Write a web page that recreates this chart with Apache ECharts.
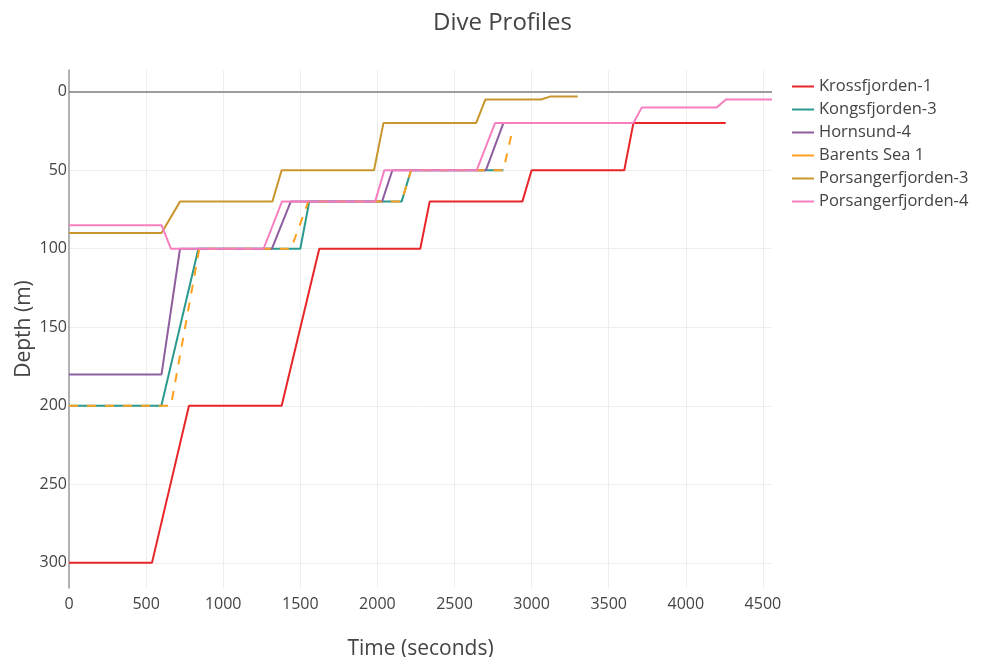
<!DOCTYPE html>
<html>
<head>
<meta charset="utf-8">
<title>Dive Profiles</title>
<script src="https://cdn.jsdelivr.net/npm/echarts@6.0.0/dist/echarts.min.js"></script>
<style>
  html, body { margin: 0; padding: 0; background: #fff; }
  #chart { width: 986px; height: 657px; }
</style>
</head>
<body>
<div id="chart"></div>
<script>
  // times in seconds, depths in metres
  var krossT = [0, 538, 778, 1379, 1623, 2278, 2339, 2940, 3000, 3601, 3660, 4259];
  var krossD = [300, 300, 200, 200, 100, 100, 70, 70, 50, 50, 20, 20];

  var kongsT = [0, 599, 839, 1500, 1558, 2157, 2218, 2817];
  var kongsD = [200, 200, 100, 100, 70, 70, 50, 50];

  var hornT = [0, 600, 720, 1316, 1438, 2030, 2097, 2704, 2817, 3424];
  var hornD = [180, 180, 100, 100, 70, 70, 50, 50, 20, 20];

  var barentsT = [0, 661, 845, 1440, 1552, 2157, 2218, 2817, 2870];
  var barentsD = [200, 200, 100, 100, 70, 70, 50, 50, 27];

  var pors3T = [0, 600, 720, 1319, 1379, 1978, 2039, 2640, 2700, 3061, 3124, 3299];
  var pors3D = [90, 90, 70, 70, 50, 50, 20, 20, 5, 5, 3, 3];

  var pors4T = [0, 600, 661, 1262, 1381, 1985, 2045, 2644, 2763, 3660, 3715, 4200, 4261, 4559];
  var pors4D = [85, 85, 100, 100, 70, 70, 50, 50, 20, 20, 10, 10, 5, 5];

  var surfaceDepth = 0;

  var seriesNames = ['Krossfjorden-1', 'Kongsfjorden-3', 'Hornsund-4', 'Barents Sea 1',
    'Porsangerfjorden-3', 'Porsangerfjorden-4'];
  var seriesColors = ['#e8262a', '#2a9a8e', '#8e5e9e', '#ffa01e', '#c9962e', '#f77fc0'];
  var seriesT = [krossT, kongsT, hornT, barentsT, pors3T, pors4T];
  var seriesD = [krossD, kongsD, hornD, barentsD, pors3D, pors4D];

  function pairs(t, d) {
    var out = [];
    for (var i = 0; i < t.length; i++) {
      out.push([t[i], d[i]]);
    }
    return out;
  }

  var font = '"Open Sans", verdana, arial, sans-serif';

  var series = seriesNames.map(function (name, i) {
    var s = {
      name: name,
      type: 'line',
      data: pairs(seriesT[i], seriesD[i]),
      symbol: 'none',
      lineStyle: {
        color: seriesColors[i],
        width: 2,
        type: name === 'Barents Sea 1' ? [9, 9] : 'solid'
      },
      itemStyle: { color: seriesColors[i] },
      emphasis: { disabled: true }
    };
    if (i === 0) {
      // surface line
      s.markLine = {
        silent: true,
        symbol: 'none',
        label: { show: false },
        lineStyle: { color: '#7f7f7f', width: 1.5, type: 'solid' },
        data: [{ yAxis: surfaceDepth }]
      };
    }
    return s;
  });

  var myChart = echarts.init(document.getElementById('chart'));
  var option = {
    animation: false,
    backgroundColor: '#fff',
    textStyle: { fontFamily: font },
    title: {
      text: 'Dive Profiles',
      left: 428,
      top: 6,
      textStyle: { fontFamily: font, fontSize: 24, fontWeight: 'normal', color: '#444' }
    },
    legend: {
      orient: 'vertical',
      left: 792,
      top: 78,
      padding: 0,
      itemWidth: 22,
      itemHeight: 16,
      itemGap: 6,
      icon: 'path://M0,7 L22,7 L22,9 L0,9 Z',
      textStyle: { fontFamily: font, fontSize: 16.5, lineHeight: 16, color: '#444' },
      data: seriesNames
    },
    grid: {
      left: 69,
      right: 214,
      top: 70,
      bottom: 69,
      containLabel: false,
      outerBoundsMode: 'none'
    },
    xAxis: {
      type: 'value',
      min: 0,
      max: 'dataMax',
      interval: 500,
      name: 'Time (seconds)',
      nameLocation: 'middle',
      nameGap: 51,
      nameMoveOverlap: false,
      nameTextStyle: { fontFamily: font, fontSize: 21, color: '#444' },
      axisLine: { show: false },
      axisTick: { show: false },
      axisLabel: {
        fontFamily: font, fontSize: 16, color: '#444', margin: 8,
        showMaxLabel: false,
        formatter: function (v) { return String(v); }
      },
      splitLine: { show: true, showMinLine: false, showMaxLine: false, lineStyle: { color: '#eeeeee', width: 1 } }
    },
    yAxis: {
      type: 'value',
      inverse: true,
      min: -13.8,
      max: 316,
      name: 'Depth (m)',
      nameLocation: 'middle',
      nameGap: 34,
      nameMoveOverlap: false,
      nameTextStyle: { fontFamily: font, fontSize: 21, color: '#444' },
      axisLine: { show: true, onZero: false, lineStyle: { color: '#999', width: 1.5 } },
      axisTick: { show: false },
      axisLabel: {
        fontFamily: font, fontSize: 16, color: '#444', margin: 2,
        showMinLabel: false, showMaxLabel: false,
        formatter: function (v) { return String(v); }
      },
      splitLine: { show: true, showMinLine: false, showMaxLine: false, lineStyle: { color: '#eeeeee', width: 1 } }
    },
    series: series
  };
  myChart.setOption(option);
</script>
</body>
</html>
